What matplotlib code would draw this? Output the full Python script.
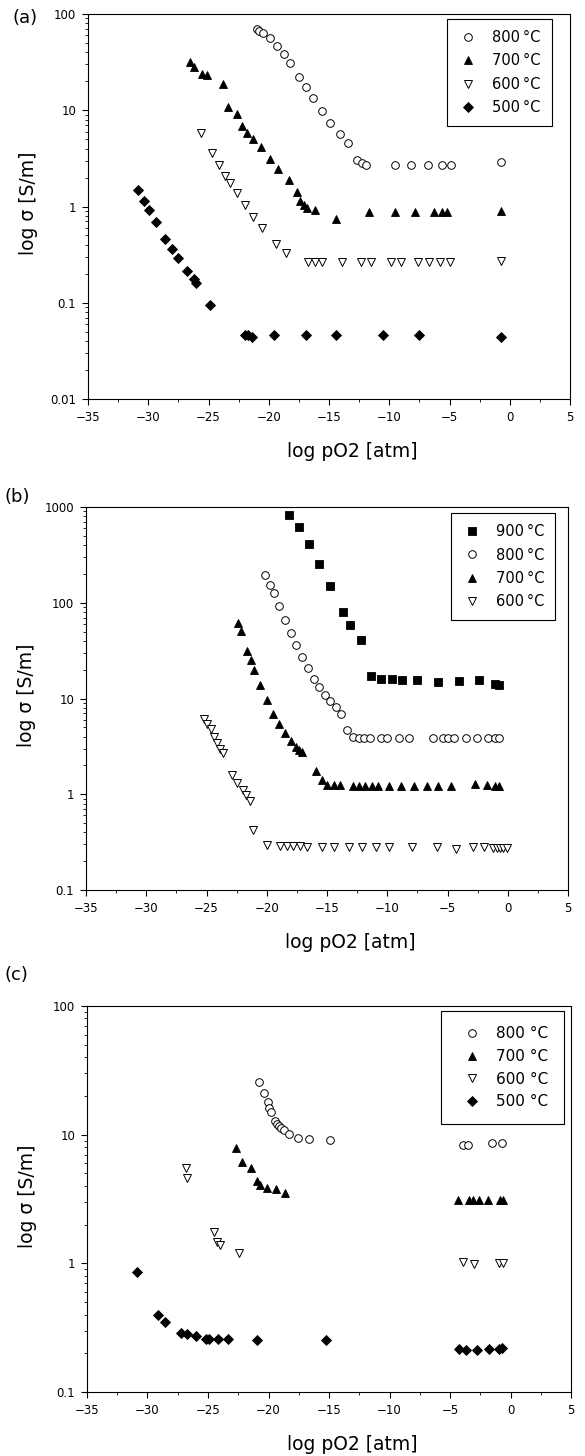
# Conductivity vs oxygen partial pressure, three panels (a), (b), (c).

import numpy as np
import matplotlib
matplotlib.use('Agg')
import matplotlib.pyplot as plt
from matplotlib.ticker import FixedLocator, FuncFormatter, LogLocator, NullFormatter

W, H = 585, 1456

# ---- panel (a) ----
a800_x = [-21.0, -20.8, -20.5, -19.9, -19.3, -18.7, -18.2, -17.5, -16.9, -16.3, -15.6, -14.9,
          -14.1, -13.4, -12.7, -12.3, -11.9, -9.5, -8.2, -6.8, -5.6, -4.9, -0.75]
a800_y = [69.3, 67.1, 63.0, 55.9, 46.9, 38.4, 30.7, 22.3, 17.6, 13.5, 9.8, 7.43,
          5.66, 4.53, 3.04, 2.85, 2.72, 2.68, 2.68, 2.68, 2.68, 2.68, 2.88]
a700_x = [-26.56, -26.18, -25.51, -25.1, -23.82, -23.38, -22.66, -22.25, -21.78, -21.33, -20.64,
          -19.9, -19.2, -18.32, -17.66, -17.43, -17.1, -16.83, -16.19, -14.39, -11.68, -9.52,
          -7.89, -6.26, -5.59, -5.21, -0.75]
a700_y = [31.7, 28.4, 23.8, 23.2, 18.6, 10.9, 9.07, 6.92, 5.85, 4.99, 4.15,
          3.09, 2.43, 1.88, 1.40, 1.15, 1.04, 0.96, 0.91, 0.738, 0.88, 0.88,
          0.88, 0.88, 0.88, 0.88, 0.894]
a600_x = [-25.59, -24.71, -24.16, -23.6, -23.24, -22.66, -21.94, -21.28, -20.59, -19.43, -18.54,
          -16.74, -16.19, -15.55, -13.92, -12.32, -11.49, -9.88, -9.0, -7.61, -6.7, -5.82, -4.93, -0.75]
a600_y = [5.85, 3.57, 2.70, 2.09, 1.77, 1.39, 1.04, 0.787, 0.596, 0.406, 0.327,
          0.266, 0.266, 0.266, 0.266, 0.266, 0.266, 0.266, 0.266, 0.266, 0.266, 0.266, 0.266, 0.273]
a500_x = [-30.85, -30.38, -29.94, -29.33, -28.61, -28.06, -27.53, -26.76, -26.2, -26.01, -24.9,
          -22.0, -21.72, -21.36, -19.59, -16.88, -14.45, -10.52, -7.53, -0.75]
a500_y = [1.47, 1.15, 0.923, 0.682, 0.458, 0.363, 0.291, 0.216, 0.176, 0.162, 0.095,
          0.0464, 0.0457, 0.0446, 0.0457, 0.0457, 0.0457, 0.0457, 0.0457, 0.0446]

# ---- panel (b) ----
b900_x = [-18.13, -17.35, -16.52, -15.66, -14.75, -13.67, -13.09, -12.21, -11.35, -10.52, -9.63,
          -8.8, -7.53, -5.82, -4.07, -2.36, -1.03, -0.7]
b900_y = [818, 622, 406, 251, 151, 80.8, 59.1, 40.8, 17.3, 16.1, 15.9,
          15.7, 15.7, 14.7, 15.2, 15.6, 14.3, 14.0]
b800_x = [-20.17, -19.7, -19.43, -18.96, -18.46, -18.02, -17.54, -17.05, -16.6, -16.11, -15.69,
          -15.19, -14.75, -14.25, -13.81, -13.34, -12.87, -12.34, -11.93, -11.43, -10.55, -9.99,
          -9.05, -8.17, -6.23, -5.35, -4.93, -4.43, -3.49, -2.55, -1.61, -1.06, -0.7]
b800_y = [197, 154, 125, 91.9, 66.6, 48.3, 35.9, 27.1, 20.8, 16.1, 13.3,
          10.9, 9.46, 8.18, 6.81, 4.67, 3.98, 3.89, 3.89, 3.89, 3.89, 3.89,
          3.89, 3.89, 3.89, 3.89, 3.89, 3.89, 3.89, 3.89, 3.89, 3.89, 3.89]
b700_x = [-22.41, -22.16, -21.61, -21.31, -21.03, -20.53, -20.01, -19.51, -19.01, -18.51, -18.02,
          -17.57, -17.3, -17.05, -15.94, -15.44, -15.03, -14.42, -13.92, -12.81, -12.34, -11.85,
          -11.29, -10.77, -9.83, -8.89, -7.75, -6.73, -5.82, -4.71, -2.75, -1.75, -1.06, -0.7]
b700_y = [61.0, 51.1, 31.6, 25.0, 20.0, 13.7, 9.61, 6.97, 5.48, 4.38, 3.59,
          3.13, 2.89, 2.73, 1.75, 1.41, 1.25, 1.25, 1.25, 1.23, 1.23, 1.23,
          1.23, 1.23, 1.23, 1.23, 1.23, 1.23, 1.23, 1.21, 1.27, 1.26, 1.23, 1.21]
b600_x = [-25.21, -24.96, -24.65, -24.41, -24.16, -23.88, -23.66, -22.86, -22.44, -22.0, -21.72,
          -21.42, -21.11, -19.98, -18.93, -18.29, -17.79, -17.24, -16.63, -15.44, -14.39, -13.17,
          -12.07, -10.93, -9.83, -7.95, -5.9, -4.29, -2.86, -1.97, -1.2, -0.92, -0.64, -0.37, -0.09]
b600_y = [6.04, 5.48, 4.75, 3.98, 3.39, 2.94, 2.67, 1.57, 1.30, 1.10, 0.98,
          0.855, 0.423, 0.295, 0.290, 0.290, 0.290, 0.290, 0.283, 0.279, 0.279, 0.279,
          0.279, 0.279, 0.279, 0.279, 0.279, 0.266, 0.279, 0.279, 0.272, 0.272, 0.272, 0.272, 0.272]

# ---- panel (c) ----
c800_x = [-20.79, -20.4, -20.04, -19.93, -19.82, -19.46, -19.27, -19.1, -18.94, -18.72, -18.28,
          -17.56, -16.63, -14.92, -3.9, -3.48, -1.56, -0.73]
c800_y = [25.8, 21.0, 17.8, 16.1, 14.9, 12.8, 12.0, 11.6, 11.2, 10.8, 10.1,
          9.48, 9.26, 9.10, 8.27, 8.37, 8.62, 8.62]
c700_x = [-22.69, -22.16, -21.42, -20.98, -20.7, -20.1, -19.38, -18.64, -4.3, -3.4, -3.1, -2.6, -1.9, -0.9, -0.65]
c700_y = [7.84, 6.15, 5.46, 4.36, 4.06, 3.87, 3.76, 3.50, 3.10, 3.13, 3.13, 3.13, 3.13, 3.13, 3.10]
c600_x = [-26.85, -26.76, -24.48, -24.28, -24.01, -22.41, -3.9, -2.99, -0.92, -0.65]
c600_y = [5.52, 4.57, 1.76, 1.47, 1.39, 1.21, 1.03, 0.99, 1.0, 1.0]
c500_x = [-30.87, -29.1, -28.55, -27.26, -26.76, -25.99, -25.17, -24.89, -24.15, -23.32, -20.98,
          -15.28, -4.26, -3.7, -2.8, -1.75, -0.92, -0.73]
c500_y = [0.861, 0.397, 0.347, 0.290, 0.283, 0.273, 0.259, 0.259, 0.258, 0.258, 0.255,
          0.255, 0.217, 0.213, 0.213, 0.216, 0.217, 0.219]

x_ticks = [-35, -30, -25, -20, -15, -10, -5, 0, 5]

plt.rcParams['font.family'] = ['DejaVu Sans']
plt.rcParams['axes.linewidth'] = 0.8

STYLE = {
    '900': dict(marker='s', ms=5.2, mfc='black', mec='black', mew=0.6),
    '800': dict(marker='o', ms=5.5, mfc='white', mec='black', mew=0.7),
    '700': dict(marker='^', ms=6.0, mfc='black', mec='black', mew=0.6),
    '600': dict(marker='v', ms=6.0, mfc='white', mec='black', mew=0.7),
    '500': dict(marker='D', ms=4.6, mfc='black', mec='black', mew=0.6),
}

LEG_A = dict(fontsize=10.5, handlelength=1.4, handletextpad=0.95, labelspacing=0.58, borderpad=0.75)
LEG_C = dict(fontsize=11, handlelength=2.0, handletextpad=0.6, labelspacing=0.5, borderpad=1.0)


def px_rect(l, t, r, b):
    return [l / W, 1 - b / H, (r - l) / W, (b - t) / H]


def setup(ax, ylim, legend_anchor, series, sep='\u2009', leg_opts=LEG_A):
    for key, x, y in series:
        ax.plot(x, y, ls='none', label=key + sep + '°C', **STYLE[key])
    ax.set_yscale('log')
    ax.set_xlim(-35, 5)
    ax.set_ylim(*ylim)
    ax.xaxis.set_major_locator(FixedLocator(x_ticks))
    ax.xaxis.set_minor_locator(FixedLocator(np.arange(-32.5, 5, 5)))
    ax.xaxis.set_major_formatter(FuncFormatter(lambda v, p: '%d' % v if v >= 0 else '\u2212%d' % -v))
    ax.yaxis.set_major_locator(LogLocator(base=10))
    ax.yaxis.set_minor_locator(LogLocator(base=10, subs=np.arange(2, 10)))
    ax.yaxis.set_major_formatter(FuncFormatter(lambda v, p: '%g' % v))
    ax.yaxis.set_minor_formatter(NullFormatter())
    ax.tick_params(which='major', direction='out', length=4, width=0.8, labelsize=8.5, pad=4.5)
    ax.tick_params(which='minor', direction='out', length=2.2, width=0.6)
    ax.set_xlabel('log pO2 [atm]', fontsize=13.5, va='top')
    ax.set_ylabel('log σ [S/m]', fontsize=13.5)
    ax.xaxis.set_label_coords(0.548, -0.112)
    ax.yaxis.set_label_coords(-0.104, 0.508)
    leg = ax.legend(loc='upper right', bbox_to_anchor=legend_anchor, borderaxespad=0,
                    numpoints=1, fancybox=False, framealpha=1, edgecolor='black', **leg_opts)
    leg.get_frame().set_linewidth(0.8)


fig = plt.figure(figsize=(W / 100, H / 100), dpi=100)

ax_a = fig.add_axes(px_rect(88, 14, 570, 399))
setup(ax_a, (0.01, 100), (0.962, 0.987),
      [('800', a800_x, a800_y), ('700', a700_x, a700_y), ('600', a600_x, a600_y), ('500', a500_x, a500_y)])

ax_b = fig.add_axes(px_rect(86, 507, 568, 890))
setup(ax_b, (0.1, 1000), (0.974, 0.984),
      [('900', b900_x, b900_y), ('800', b800_x, b800_y), ('700', b700_x, b700_y), ('600', b600_x, b600_y)])

ax_c = fig.add_axes(px_rect(87, 1006, 571, 1392))
setup(ax_c, (0.1, 100), (0.9855, 0.987),
      [('800', c800_x, c800_y), ('700', c700_x, c700_y), ('600', c600_x, c600_y), ('500', c500_x, c500_y)],
      sep=' ', leg_opts=LEG_C)

fig.text(13 / W, 1 - 18 / H, '(a)', fontsize=13, va='center', ha='left')
fig.text(4 / W, 1 - 497 / H, '(b)', fontsize=13, va='center', ha='left')
fig.text(4 / W, 1 - 975 / H, '(c)', fontsize=13, va='center', ha='left')

fig.savefig('out.png', dpi=100)
